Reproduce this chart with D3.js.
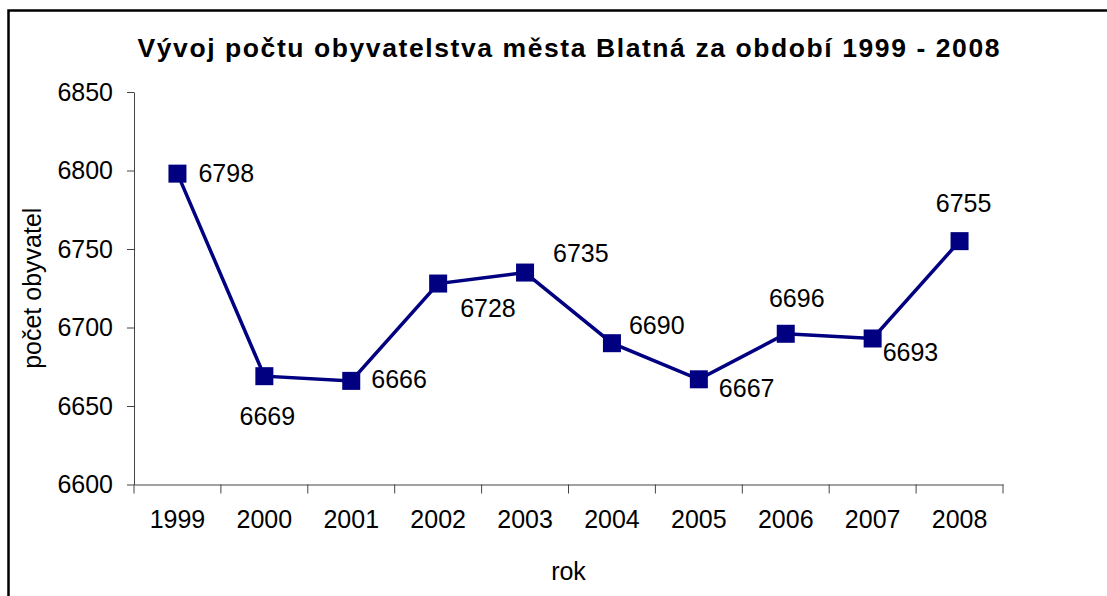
<!DOCTYPE html>
<meta charset="utf-8">
<head>
  <script src="https://d3js.org/d3.v7.min.js"></script>
  <style>
    body { margin: 0; background: #fff; font-family: 'Liberation Sans', Arial, sans-serif; }
  </style>
</head>
<body>
  <div id="chart"></div>
<script>
  // data
  const years = ["1999", "2000", "2001", "2002", "2003", "2004", "2005", "2006", "2007", "2008"];
  const population = [6798, 6669, 6666, 6728, 6735, 6690, 6667, 6696, 6693, 6755];
  const yTicks = [6600, 6650, 6700, 6750, 6800, 6850];

  // where each value label sits relative to its marker (as in the original)
  const labelPos = [
    { dx: 21, dy: 0, anchor: "start" },
    { dx: 3, dy: 40, anchor: "middle" },
    { dx: 20, dy: -2, anchor: "start" },
    { dx: 22, dy: 25, anchor: "start" },
    { dx: 28, dy: -19, anchor: "start" },
    { dx: 17, dy: -18, anchor: "start" },
    { dx: 20, dy: 9, anchor: "start" },
    { dx: 11, dy: -36, anchor: "middle" },
    { dx: 10, dy: 14, anchor: "start" },
    { dx: 4, dy: -38, anchor: "middle" }
  ];

  const W = 1107, H = 596;
  const margin = { top: 92, right: 104, bottom: 111.5, left: 134 };
  const width = W - margin.left - margin.right,
    height = H - margin.top - margin.bottom;

  const svg = d3.select("#chart").append("svg")
    .attr("width", W).attr("height", H)
    .style("display", "block");

  // chart border (right/bottom edges fall outside the picture)
  svg.append("rect")
    .attr("x", 8.5).attr("y", 10.5)
    .attr("width", W + 10).attr("height", H + 10)
    .attr("fill", "none").attr("stroke", "#000").attr("stroke-width", 2.5);

  svg.append("text")
    .attr("x", margin.left + width / 2).attr("y", 57)
    .attr("text-anchor", "middle")
    .attr("font-size", 26.5).attr("font-weight", "bold")
    .attr("textLength", 862).attr("lengthAdjust", "spacing")
    .text("Vývoj počtu obyvatelstva města Blatná za období 1999 - 2008");

  const g = svg.append("g").attr("transform", `translate(${margin.left},${margin.top})`);

  const x = d3.scaleBand().domain(years).range([0, width]);
  const y = d3.scaleLinear().domain([6600, 6850]).range([height, 0]);

  // y axis
  const yAxis = g.append("g")
    .call(d3.axisLeft(y).tickValues(yTicks).tickSize(7).tickPadding(14).tickSizeOuter(0).tickFormat(d3.format("d")));
  // x axis, ticks on band boundaries
  const xAxis = g.append("g")
    .attr("transform", `translate(0,${height})`)
    .call(d3.axisBottom(x).tickSize(0).tickPadding(26));
  xAxis.selectAll(".bound")
    .data(d3.range(years.length + 1))
    .enter().append("line")
    .attr("class", "bound")
    .attr("x1", i => i * x.step()).attr("x2", i => i * x.step())
    .attr("y1", 0).attr("y2", 9)
    .attr("stroke", "#444");

  [yAxis, xAxis].forEach(a => {
    a.selectAll(".domain").attr("stroke", "#444");
    a.selectAll(".tick line").attr("stroke", "#444");
    a.selectAll("text").attr("font-size", 25).attr("fill", "#000")
      .attr("font-family", "'Liberation Sans', Arial, sans-serif");
  });
  xAxis.selectAll(".tick text").attr("dy", "0.71em");

  const cx = (d, i) => x(years[i]) + x.bandwidth() / 2;

  g.append("path")
    .datum(population)
    .attr("fill", "none")
    .attr("stroke", "#000080")
    .attr("stroke-width", 3.5)
    .attr("d", d3.line().x(cx).y(d => y(d)));

  const ms = 18;
  g.selectAll(".marker")
    .data(population)
    .enter().append("rect")
    .attr("class", "marker")
    .attr("x", (d, i) => cx(d, i) - ms / 2)
    .attr("y", d => y(d) - ms / 2)
    .attr("width", ms).attr("height", ms)
    .attr("fill", "#000080");

  g.selectAll(".vlabel")
    .data(population)
    .enter().append("text")
    .attr("class", "vlabel")
    .attr("x", (d, i) => cx(d, i) + labelPos[i].dx)
    .attr("y", (d, i) => y(d) + labelPos[i].dy)
    .attr("dy", "0.35em")
    .attr("text-anchor", (d, i) => labelPos[i].anchor)
    .attr("font-size", 25)
    .text(d => d);

  // axis titles
  svg.append("text")
    .attr("x", margin.left + width / 2).attr("y", 580)
    .attr("text-anchor", "middle").attr("font-size", 25)
    .text("rok");
  svg.append("text")
    .attr("transform", `translate(41,${margin.top + height / 2}) rotate(-90)`)
    .attr("text-anchor", "middle").attr("font-size", 25)
    .text("počet obyvatel");
</script>
</body>
